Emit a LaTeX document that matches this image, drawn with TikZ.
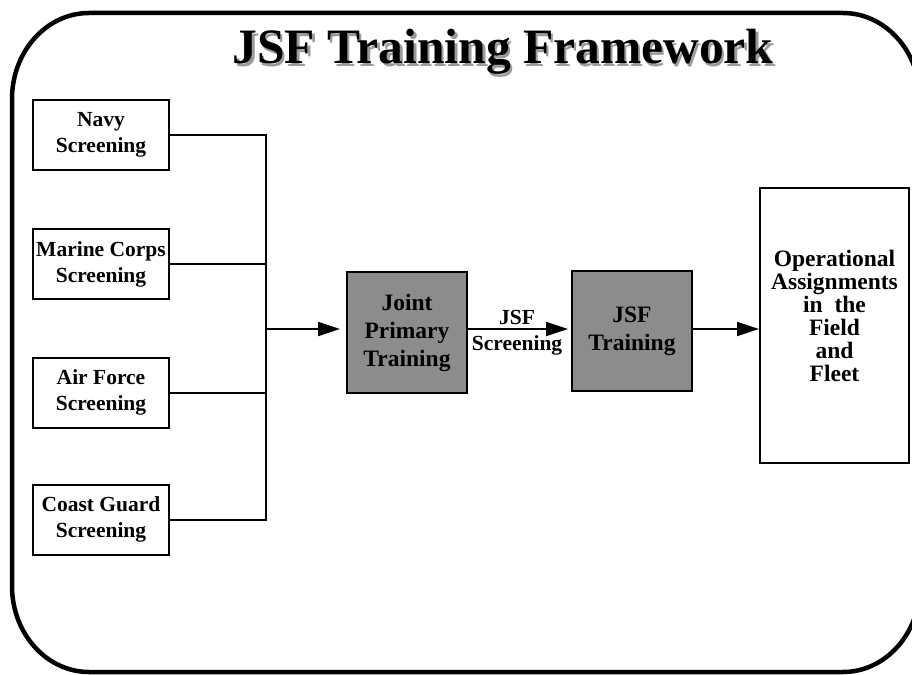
\documentclass[tikz,border=0pt]{standalone}
\usepackage{fontspec}
\setmainfont{Liberation Serif}
\usetikzlibrary{arrows.meta}
\definecolor{boxgray}{RGB}{140,140,140}
\definecolor{shadowgray}{RGB}{155,155,155}
\begin{document}
\begin{tikzpicture}[x=1bp,y=-1bp,
  srcbox/.style={draw, line width=2bp, minimum width=136bp, minimum height=70bp, inner sep=0pt, align=center, font=\bfseries\fontsize{21.5bp}{26bp}\selectfont},
  graybox/.style={draw, fill=boxgray, line width=2bp, minimum width=120bp, minimum height=120bp, inner sep=0pt, align=center, font=\bfseries\fontsize{23.5bp}{28bp}\selectfont},
  conn/.style={line width=2bp},
  arr/.style={line width=2bp, -{Triangle[length=22bp,width=14bp]}},
  titlefont/.style={font=\bfseries\fontsize{49.5bp}{55bp}\selectfont},
  lbl/.style={anchor=base, font=\bfseries\fontsize{21.5bp}{23bp}\selectfont},
]
\useasboundingbox (0,0) rectangle (912,675);
% frame (right side runs past the page edge)
\draw[line width=4.5bp]
  (89,13) -- (843,13) .. controls (885.5,13) and (920,51.5) .. (920,99)
  -- (920,586) .. controls (920,633.5) and (885.5,672) .. (843,672)
  -- (89,672) .. controls (46.5,672) and (12,633.5) .. (12,586)
  -- (12,99) .. controls (12,51.5) and (46.5,13) .. (89,13) -- cycle;
% title
\node[anchor=base, titlefont, text=shadowgray] (titleshadow) at (505.5,66.5) {JSF Training Framework};
\node[anchor=base, titlefont] (title) at (503,64) {JSF Training Framework};
% source boxes
\node[srcbox] (navy) at (101,135) {Navy\\Screening};
\node[srcbox] (marine) at (101,264) {Marine Corps\\Screening};
\node[srcbox] (air) at (101,392.5) {Air Force\\Screening};
\node[srcbox] (coast) at (101,519.5) {Coast Guard\\Screening};
% bus
\coordinate (bustop) at (266,134);
\coordinate (busbot) at (266,520.5);
\coordinate (busmid) at (266,329);
\draw[conn] (navy.east) -- (navy.east -| bustop);
\draw[conn] (marine.east) -- (marine.east -| bustop);
\draw[conn] (air.east) -- (air.east -| bustop);
\draw[conn] (coast.east) -- (coast.east -| bustop);
\draw[conn] (bustop) -- (busbot);
% main chain
\node[graybox, minimum height=121bp] (joint) at (407,332.5) {Joint\\Primary\\Training};
\node[graybox] (jsf) at (632,331) {JSF\\Training};
\node[draw, line width=2bp, minimum width=149bp, minimum height=275bp, inner sep=0pt] (op) at (834.5,325.5) {};
\node[align=center, font=\bfseries\fontsize{23.5bp}{23bp}\selectfont] (optext) at (834.5,316) {Operational\\Assignments\\in\ \ the\\Field\\and\\Fleet};
\draw[arr, shorten >=6bp] (busmid) -- (joint.west |- busmid);
\draw[arr, shorten >=3bp] (joint.east |- busmid) --
  node[lbl, pos=0.476, yshift=5bp] (lbljsf) {JSF}
  node[lbl, pos=0.476, yshift=-21.5bp] (lblscr) {Screening}
  (jsf.west |- busmid);
\draw[arr] (jsf.east |- busmid) -- (op.west |- busmid);
\end{tikzpicture}
\end{document}
